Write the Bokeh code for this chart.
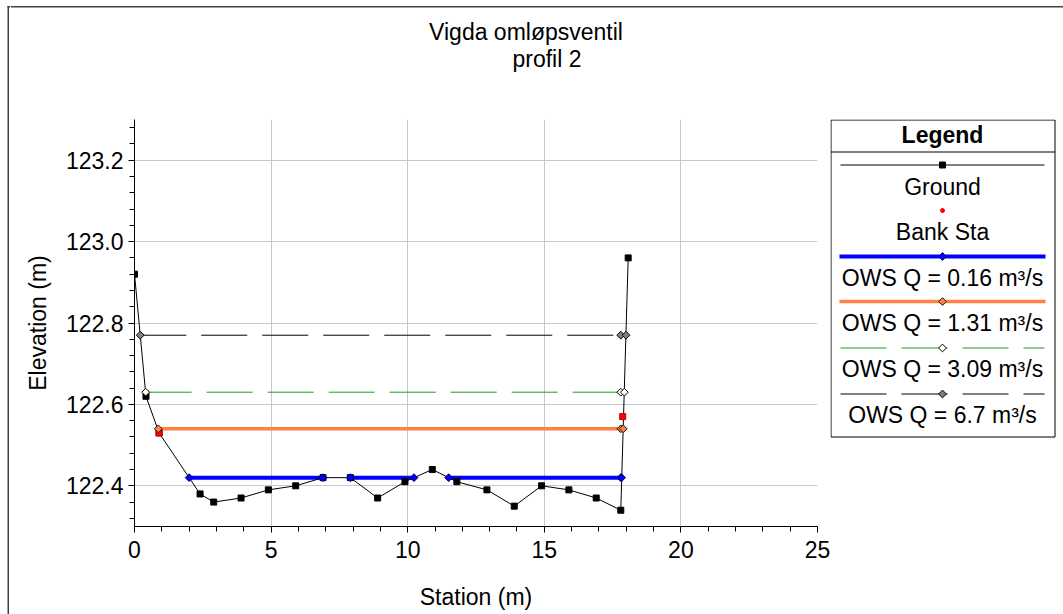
import math
from bokeh.plotting import figure
from bokeh.layouts import row, column
from bokeh.models import Range1d, SingleIntervalTicker, PrintfTickFormatter
from bokeh.core.properties import value
from bokeh.embed import file_html
from bokeh.resources import INLINE

# ---------------- data ----------------
title_line1 = "Vigda omløpsventil"
title_line2 = "profil 2"
x_label = "Station (m)"
y_label = "Elevation (m)"

station = [0.0, 0.42, 0.9, 2.4, 2.9, 3.9, 4.9, 5.9, 6.9, 7.9, 8.9, 9.9,
           10.9, 11.8, 12.9, 13.9, 14.9, 15.9, 16.9, 17.8, 18.07]
elevation = [122.92, 122.62, 122.53, 122.38, 122.36, 122.37, 122.39, 122.40,
             122.42, 122.42, 122.37, 122.41, 122.44, 122.41, 122.39, 122.35,
             122.40, 122.39, 122.37, 122.34, 122.96]

bank_station = [0.9, 17.87]
bank_elevation = [122.53, 122.57]

ws_names = ["OWS Q = 0.16 m³/s", "OWS Q = 1.31 m³/s",
            "OWS Q = 3.09 m³/s", "OWS Q = 6.7 m³/s"]
ws_elevation = [122.42, 122.54, 122.63, 122.77]
ws_stations = [
    [2.0, 6.9, None, 7.9, 10.23, None, 11.5, 17.8, 17.83],
    [0.87, 17.8, 17.89],
    [0.41, 17.8, 17.93],
    [0.21, 17.8, 17.99],
]

x_range = (0, 25)
y_range = (122.3, 123.3)
x_tick_interval = 5
y_tick_interval = 0.2

# ---------------- styles ----------------
FONT = "Liberation Sans"
FS = "23px"
ws_colors = ["#0000FF", "#FF8040", "#1E9B1E", "#000000"]
ws_widths = [4, 3.5, 1, 1]
ws_dashes = ["solid", "solid", "46 15", "46 15"]
ws_marker_fill = ["#0000FF", "#FF8040", "#FFFFFF", "#808080"]
ws_marker_line = ["#000060", "#202020", "#000000", "#000000"]
BORDER = "#404040"

W, H = 1063, 614
TOP = 119          # height of header strip = frame top
STRIP = 10         # left border strip width
P_RIGHT = 830      # right edge of main plot canvas
FL, FR, FB = 134, 817, 526


def blank(width, height, xr, yr):
    f = figure(width=width, height=height, output_backend="svg", toolbar_location=None,
               x_range=Range1d(*xr), y_range=Range1d(*yr),
               x_axis_type=None, y_axis_type=None, min_border=0)
    f.outline_line_color = None
    f.grid.visible = False
    f.background_fill_color = "white"
    f.border_fill_color = "white"
    return f


# ---------------- left border strip (full height) ----------------
lst = blank(STRIP, H, (0, STRIP), (H, 0))
lst.segment(x0=[7.75], y0=[5.5], x1=[7.75], y1=[H], line_color=BORDER, line_width=1.5)
lst.segment(x0=[7], y0=[6.25], x1=[STRIP], y1=[6.25], line_color=BORDER, line_width=1.5)

# ---------------- header (titles + top border) ----------------
hdr = blank(W - STRIP, TOP, (STRIP, W), (TOP, 0))
hdr.segment(x0=[STRIP], y0=[6.25], x1=[W], y1=[6.25], line_color=BORDER, line_width=1.5)
hdr.text(x=[525.5, 546.5], y=[31, 58], text=[title_line1, title_line2],
         text_font=value(FONT), text_font_size=value(FS), text_color="black",
         text_align="center", text_baseline="middle")

# ---------------- main plot ----------------
p = figure(width=P_RIGHT - STRIP, height=H - TOP, output_backend="svg", toolbar_location=None,
           x_range=Range1d(*x_range), y_range=Range1d(*y_range),
           min_border_left=FL - STRIP, min_border_right=P_RIGHT - FR,
           min_border_top=0, min_border_bottom=H - FB)
p.outline_line_color = None
p.background_fill_color = "white"
p.border_fill_color = "white"

xt = SingleIntervalTicker(interval=x_tick_interval, num_minor_ticks=5)
yt = SingleIntervalTicker(interval=y_tick_interval, num_minor_ticks=5)
p.xaxis.ticker = xt
p.yaxis.ticker = yt
p.xgrid.ticker = xt
p.ygrid.ticker = yt
p.yaxis.formatter = PrintfTickFormatter(format="%.1f")
p.xaxis.formatter = PrintfTickFormatter(format="%d")
for ax in (p.xaxis[0], p.yaxis[0]):
    ax.axis_line_color = "black"
    ax.major_tick_line_color = "black"
    ax.minor_tick_line_color = "black"
    ax.major_tick_in = 0
    ax.major_tick_out = 6
    ax.minor_tick_in = 0
    ax.minor_tick_out = 5
    ax.major_label_text_font = FONT
    ax.major_label_text_font_size = FS
    ax.major_label_text_color = "black"
    ax.axis_label_text_font = FONT
    ax.axis_label_text_font_size = FS
    ax.axis_label_text_font_style = "normal"
    ax.axis_label_text_color = "black"
p.xaxis.axis_label = x_label
p.yaxis.axis_label = y_label
p.xaxis.major_label_standoff = 8
p.yaxis.major_label_standoff = 5
p.xaxis.axis_label_standoff = 23
p.yaxis.axis_label_standoff = 12
for g in (p.xgrid[0], p.ygrid[0]):
    g.grid_line_color = "#C8C8C8"
    g.grid_line_width = 1


def with_nan(v):
    return [float("nan") if a is None else a for a in v]


for i in range(3, -1, -1):
    xs = with_nan(ws_stations[i])
    ys = [float("nan") if a is None else ws_elevation[i] for a in ws_stations[i]]
    p.line(xs, ys, line_color=ws_colors[i], line_width=ws_widths[i],
           line_dash=ws_dashes[i])

p.line(station, elevation, line_color="black", line_width=1)
p.scatter(station, elevation, marker="square", size=6, fill_color="black", line_color="black")
p.scatter(bank_station, bank_elevation, marker="square", size=6, fill_color="red", line_color="#C00000")

for i in range(3, -1, -1):
    pts = [a for a in ws_stations[i] if a is not None]
    p.scatter(pts, [ws_elevation[i]] * len(pts), marker="square", angle=math.pi / 4, size=5.5,
              fill_color=ws_marker_fill[i], line_color=ws_marker_line[i], line_width=1)

# ---------------- legend panel (frame aligned with main frame: y 119..526) ----------------
lg = blank(W - P_RIGHT, H - TOP, (P_RIGHT, W), (FB, TOP))
LX = 942
LL, LR, LT, LB = P_RIGHT + 0.5, 1054.5, TOP + 0.5, 436.5
lg.segment(x0=[LL, LL, LL, LR, LL], y0=[LT, LB, LT, LT, 151.5],
           x1=[LR, LR, LL, LR, LR], y1=[LT, LB, LB, LB, 151.5],
           line_color="black", line_width=1)
lg.text(x=[LX], y=[134], text=["Legend"], text_font=value(FONT), text_font_size=value(FS),
        text_font_style="bold", text_color="black", text_align="center", text_baseline="middle")

entries = ["Ground", "Bank Sta"] + ws_names
line_y = [164.5, 210, 256, 301, 347.5, 393.5]
text_y = [186, 231, 277, 322, 368, 414]
S0, S1 = 840, 1044

lg.segment(x0=[S0], y0=[line_y[0]], x1=[S1], y1=[line_y[0]], line_color="black", line_width=1)
lg.scatter(x=[LX], y=[line_y[0]], marker="square", size=6, fill_color="black", line_color="black")
lg.scatter(x=[LX], y=[line_y[1]], marker="circle", size=4, fill_color="red", line_color="red")
for i in range(4):
    y = line_y[i + 2]
    if ws_dashes[i] == "solid":
        lg.segment(x0=[S0 - 1], y0=[y], x1=[S1 + 1], y1=[y], line_color=ws_colors[i],
                   line_width=ws_widths[i])
    else:
        lg.segment(x0=[S0], y0=[y], x1=[S1], y1=[y], line_color=ws_colors[i],
                   line_width=ws_widths[i], line_dash=ws_dashes[i])
    lg.scatter(x=[LX], y=[y], marker="square", angle=math.pi / 4, size=5.5,
               fill_color=ws_marker_fill[i], line_color=ws_marker_line[i], line_width=1)

lg.text(x=[LX] * len(entries), y=text_y, text=entries, text_font=value(FONT),
        text_font_size=value(FS), text_color="black", text_align="center",
        text_baseline="middle")

layout = row(lst, column(hdr, row(p, lg, spacing=0), spacing=0), spacing=0)
open("out.html", "w").write(file_html(layout, INLINE))
